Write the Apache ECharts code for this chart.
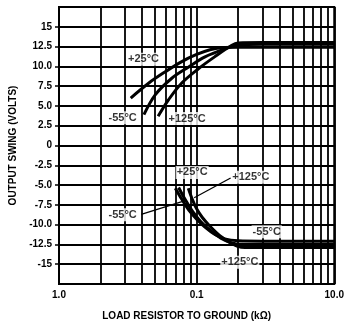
<!DOCTYPE html>
<html>
<head>
<meta charset="utf-8">
<script src="https://cdn.jsdelivr.net/npm/echarts@6/dist/echarts.min.js"></script>
<style>
html,body{margin:0;padding:0;background:#fff;}
#chart{width:347px;height:326px;}
</style>
</head>
<body>
<div id="chart"></div>
<script>
// x values are load resistance (log axis); y values are output swing (V)
const xTickValues = [0.01, 0.1, 1];
const xTickLabels = ['1.0', '0.1', '10.0'];
const xGridValues = [0.02,0.03,0.04,0.05,0.06,0.07,0.08,0.09,0.2,0.3,0.4,0.5,0.6,0.7,0.8,0.9];
const yTickValues = [15,12.5,10,7.5,5,2.5,0,-2.5,-5,-7.5,-10,-12.5,-15];
const yTickLabels = ['15','12.5','10.0','7.5','5.0','2.5','0','-2.5','-5.0','-7.5','-10.0','-12.5','-15'];

const upper25 = [[0.0332,6.0],[0.045,7.9],[0.059,9.3],[0.078,10.6],[0.1,11.5],[0.125,12.1],[0.15,12.35],[0.2,12.4],[0.3,12.4],[1,12.4]];
const upperM55 = [[0.0414,3.9],[0.05,6.4],[0.066,8.5],[0.087,9.9],[0.115,11.2],[0.16,12.2],[0.2,12.7],[0.3,12.8],[1,12.8]];
const upper125 = [[0.0525,3.7],[0.0626,5.8],[0.078,7.9],[0.103,9.7],[0.135,11.2],[0.178,12.6],[0.2,12.95],[0.3,13.0],[1,13.0]];
const lowerM55 = [[0.070,-5.4],[0.078,-6.8],[0.088,-8.2],[0.1,-9.3],[0.115,-10.3],[0.135,-11.2],[0.16,-11.8],[0.2,-12.05],[0.3,-12.1],[1,-12.1]];
const lower25 = [[0.074,-5.3],[0.083,-6.9],[0.094,-8.4],[0.107,-9.6],[0.125,-10.7],[0.15,-11.7],[0.18,-12.3],[0.22,-12.5],[0.3,-12.5],[1,-12.5]];
const lower125 = [[0.087,-5.4],[0.093,-6.8],[0.1,-8.0],[0.11,-9.1],[0.125,-10.2],[0.15,-11.5],[0.18,-12.4],[0.21,-12.85],[0.3,-12.9],[1,-12.9]];

const annTexts = ['+25°C','-55°C','+125°C','+25°C','+125°C','-55°C','-55°C','+125°C'];
const annX = [0.0411,0.029,0.0853,0.0928,0.2474,0.029,0.323,0.206];
const annY = [10.9,3.5,3.4,-3.4,-4.0,-8.75,-10.9,-14.75];
const leaders = [[[0.1766,-4.1],[0.096,-6.6]],[[0.0396,-8.7],[0.0782,-7.1]]];

const font = '"Liberation Sans", Arial, Helvetica, sans-serif';
const black = '#000';

function curve(name, data, extra) {
  return Object.assign({
    name: name, type: 'line', data: data, smooth: 0.35, symbol: 'none',
    lineStyle: {color: black, width: 3}, z: 5, silent: true
  }, extra || {});
}

const chart = echarts.init(document.getElementById('chart'), null, {renderer: 'canvas'});
chart.setOption({
  animation: false,
  backgroundColor: '#fff',
  grid: {left: 59, right: 11, top: 7, bottom: 39, show: true, borderColor: black, borderWidth: 2, backgroundColor: 'transparent'},
  xAxis: {
    type: 'log', logBase: 10, min: 0.01, max: 1,
    axisLine: {show: true, lineStyle: {color: black, width: 2}},
    axisTick: {show: false},
    splitLine: {show: true, lineStyle: {color: black, width: 1.8}},
    axisLabel: {
      customValues: xTickValues, margin: 6, color: black, fontFamily: font, fontWeight: 'bold', fontSize: 10,
      formatter: function (v) { for (let i = 0; i < xTickValues.length; i++) { if (Math.abs(v - xTickValues[i]) < 1e-9) return xTickLabels[i]; } return ''; }
    },
    name: 'LOAD RESISTOR TO GROUND (kΩ)', nameLocation: 'middle', nameGap: 27,
    nameTextStyle: {color: black, fontFamily: font, fontWeight: 'bold', fontSize: 10, padding: [0, 20, 0, 0]}
  },
  yAxis: {
    type: 'value', min: -17.5, max: 17.5, interval: 2.5,
    axisLine: {show: true, lineStyle: {color: black, width: 2}},
    axisTick: {show: true, customValues: yTickValues, length: 4, lineStyle: {color: black, width: 1.5}},
    splitLine: {show: true, lineStyle: {color: black, width: 1.8}},
    axisLabel: {
      customValues: yTickValues, margin: 7, color: black, fontFamily: font, fontWeight: 'bold', fontSize: 10,
      formatter: function (v) { for (let i = 0; i < yTickValues.length; i++) { if (Math.abs(v - yTickValues[i]) < 1e-9) return yTickLabels[i]; } return ''; }
    },
    name: 'OUTPUT SWING (VOLTS)', nameLocation: 'middle', nameGap: 41,
    nameTextStyle: {color: black, fontFamily: font, fontWeight: 'bold', fontSize: 10}
  },
  series: [
    curve('+25°C upper', upper25, {
      markLine: {
        silent: true, symbol: 'none', label: {show: false}, animation: false,
        lineStyle: {color: black, width: 1.8, type: 'solid'},
        data: xGridValues.map(v => ({xAxis: v}))
      }
    }),
    curve('-55°C upper', upperM55),
    curve('+125°C upper', upper125),
    curve('-55°C lower', lowerM55),
    curve('+25°C lower', lower25),
    curve('+125°C lower', lower125, {
      markLine: {
        silent: true, symbol: 'none', label: {show: false}, animation: false,
        lineStyle: {color: black, width: 1.3, type: 'solid'},
        data: leaders.map(l => [{coord: l[0]}, {coord: l[1]}])
      }
    }),
    {
      name: 'labels', type: 'scatter', symbolSize: 0, z: 10, silent: true,
      data: annTexts.map((t, i) => ({name: t, value: [annX[i], annY[i]]})),
      label: {
        show: true, position: 'inside', formatter: '{b}', color: black, fontFamily: font,
        fontWeight: 'bold', fontSize: 11, backgroundColor: '#fff', padding: [1, 1, 1, 1]
      }
    }
  ]
});
</script>
</body>
</html>
